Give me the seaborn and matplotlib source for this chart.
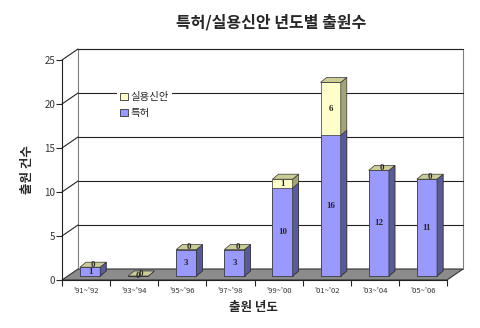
import numpy as np
import pandas as pd
import matplotlib
matplotlib.use("Agg")
import matplotlib.pyplot as plt
import matplotlib.transforms as mtransforms
from matplotlib.patches import Polygon, Patch
import seaborn as sns

periods = ["'91~'92", "'93~'94", "'95~'96", "'97~'98", "'99~'00", "'01~'02", "'03~'04", "'05~'06"]
patent = [1, 0, 3, 3, 10, 16, 12, 11]
utility = [0, 0, 0, 0, 1, 6, 0, 0]
yticks = [0, 5, 10, 15, 20, 25]

df = pd.DataFrame({"period": periods, "특허": patent, "실용신안": utility})
df["total"] = df["특허"] + df["실용신안"]

sns.set_style("white")
plt.rcParams["font.family"] = ["Noto Sans CJK KR", "DejaVu Sans"]

blue, blue_side = "#9999FF", "#5A5A94"
yellow, yellow_side, yellow_top = "#FFFFCC", "#A3A37A", "#CCCC99"

fig = plt.figure(figsize=(4.8, 3.28), dpi=100)
ax = fig.add_axes([62 / 480, 48 / 328, 385 / 480, 220 / 328])

# stacked bars: total (utility on top) first, patent over it
sns.barplot(data=df, x="period", y="total", color=yellow, saturation=1, width=0.42,
            edgecolor="#333333", linewidth=0.5, ax=ax, zorder=3)
bars_total = ax.containers[-1]
sns.barplot(data=df, x="period", y="특허", color=blue, saturation=1, width=0.42,
            edgecolor="#333333", linewidth=0.5, ax=ax, zorder=4)
bars_patent = ax.containers[-1]

ax.set_xlim(-0.5, 7.5)
ax.set_ylim(0, 25)


def px(dx, dy):
    inv = ax.transData.inverted()
    o = inv.transform((0, 0))
    p = inv.transform((dx, dy))
    return p[0] - o[0], p[1] - o[1]


wx, wy = px(16, 11)   # back wall depth
bx, by = px(4, 4)     # bar front offset
dx, dy = px(6, 5)     # bar depth

# back wall, side lines, floor
ax.add_patch(Polygon([(-0.5 + wx, wy), (7.5 + wx, wy), (7.5 + wx, 25 + wy), (-0.5 + wx, 25 + wy)],
                     closed=True, fc="white", ec="#808080", lw=0.8, zorder=0, clip_on=False))
for y in yticks[1:]:
    ax.plot([-0.5 + wx, 7.5 + wx], [y + wy, y + wy], color="#222222", lw=0.8, zorder=1, clip_on=False)
    ax.plot([-0.5, -0.5 + wx], [y, y + wy], color="#222222", lw=0.8, zorder=1, clip_on=False)
ax.add_patch(Polygon([(-0.5, 0), (7.5, 0), (7.5 + wx, wy), (-0.5 + wx, wy)],
                     closed=True, fc="#8C8C8C", ec="#333333", lw=0.8, zorder=2, clip_on=False))

# 3d faces for bars
shift = mtransforms.ScaledTranslation(0.04, 0.04, fig.dpi_scale_trans)
for bars, side, z in [(bars_total, yellow_side, 3), (bars_patent, blue_side, 4)]:
    for p in bars:
        p.set_transform(ax.transData + shift)
        x0, y0, w, h = p.get_x() + bx, p.get_y() + by, p.get_width(), p.get_height()
        ax.add_patch(Polygon([(x0 + w, y0), (x0 + w + dx, y0 + dy), (x0 + w + dx, y0 + h + dy), (x0 + w, y0 + h)],
                             closed=True, fc=side, ec="#333333", lw=0.5, zorder=z, clip_on=False))
for p in bars_total:
    x0, y0, w, h = p.get_x() + bx, p.get_y() + by, p.get_width(), p.get_height()
    ax.add_patch(Polygon([(x0, y0 + h), (x0 + w, y0 + h), (x0 + w + dx, y0 + h + dy), (x0 + dx, y0 + h + dy)],
                         closed=True, fc=yellow_top, ec="#333333", lw=0.5, zorder=5, clip_on=False))

# value labels
lab = dict(ha="center", va="center", fontsize=6.5, fontweight="bold", family="Liberation Serif", zorder=6)
for i in range(len(periods)):
    ax.text(i + bx, patent[i] / 2 + by, str(patent[i]), **lab)
    if utility[i] > 0:
        ax.text(i + bx, patent[i] + utility[i] / 2 + by, str(utility[i]), **lab)
    else:
        ax.text(i + bx + dx / 2, patent[i] + by + dy / 2, "0", **lab)

# axes styling
for s in ["top", "right"]:
    ax.spines[s].set_visible(False)
for s in ["left", "bottom"]:
    ax.spines[s].set_color("#222222")
    ax.spines[s].set_linewidth(0.8)
ax.patch.set_visible(False)
ax.set_yticks(yticks)
ax.set_xticks(range(len(periods)))
ax.set_xticklabels(periods)
ax.set_xticks(np.arange(-0.5, 8, 1), minor=True)
ax.tick_params(axis="y", length=4, width=0.8, labelsize=7, labelcolor="#333333", pad=1, left=True)
ax.tick_params(axis="x", which="major", length=0, labelsize=5.5, labelcolor="#333333", pad=5)
ax.tick_params(axis="x", which="minor", length=4, width=0.8, bottom=True)
ax.set_xlabel("")
ax.set_ylabel("")

fig.text(0.565, 1 - 22 / 328, "특허/실용신안 년도별 출원수", ha="center", va="center",
         fontsize=11.5, fontweight="bold")
fig.text(28 / 480, 1 - 170 / 328, "출원 건수", ha="center", va="center", rotation=90,
         fontsize=9, fontweight="bold")
fig.text(253 / 480, 1 - 307 / 328, "출원 년도", ha="center", va="center",
         fontsize=9, fontweight="bold")

fig.legend(handles=[Patch(fc=yellow, ec="#333333", lw=0.6, label="실용신안"),
                    Patch(fc=blue, ec="#333333", lw=0.6, label="특허")],
           loc="upper left", bbox_to_anchor=(112 / 480, 1 - 84 / 328), fontsize=7.5,
           handlelength=0.7, handleheight=0.7, handletextpad=0.3, labelspacing=0.55,
           borderpad=0.3, frameon=True, fancybox=False, framealpha=1,
           facecolor="white", edgecolor="none")

fig.savefig("out.png", dpi=100)
